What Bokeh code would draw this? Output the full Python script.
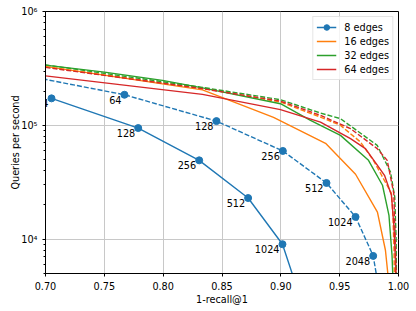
from bokeh.plotting import figure
from bokeh.models import Range1d, FixedTicker, Legend, LegendItem, Label
from bokeh.embed import file_html
from bokeh.resources import INLINE

# ---- data ----
# 8 edges, solid (with markers and search-size labels)
recall_8_a = [0.7051, 0.7788, 0.8306, 0.8722, 0.9014, 0.9150]
qps_8_a = [172600, 94700, 49300, 23000, 9040, 3400]
labels_8_a = ["64", "128", "256", "512", "1024", "2048"]

# 8 edges, dashed (with markers and labels)
recall_8_b = [0.6800, 0.7671, 0.8453, 0.9017, 0.9388, 0.9635, 0.9785, 0.9840]
qps_8_b = [277700, 185700, 109000, 59600, 31200, 15700, 7140, 3300]
labels_8_b = ["32", "64", "128", "256", "512", "1024", "2048", "4096"]

# 16 edges
recall_16_a = [0.700, 0.8334, 0.8938, 0.9380, 0.9635, 0.9821, 0.9889, 0.9915]
qps_16_a = [329300, 204800, 117500, 69500, 37200, 17300, 8000, 4370]
recall_16_b = [0.700, 0.8317, 0.8997, 0.9337, 0.9507, 0.9677, 0.9787, 0.9940, 0.9953, 0.9962, 0.9966]
qps_16_b = [326000, 213300, 160100, 118300, 100000, 71400, 49300, 25300, 15900, 8000, 3950]

# 32 edges
recall_32_a = [0.700, 0.7501, 0.7994, 0.8334, 0.8997, 0.9252, 0.9507, 0.9745, 0.9864, 0.9919, 0.9945, 0.9953]
qps_32_a = [338100, 293500, 248100, 213300, 155000, 110600, 81700, 49300, 29800, 16200, 7240, 4370]
recall_32_b = [0.700, 0.8317, 0.8997, 0.9337, 0.9507, 0.9819, 0.9932, 0.9968, 0.9980, 0.9983]
qps_32_b = [339500, 216800, 168100, 128200, 114500, 66800, 38900, 23500, 9800, 3950]

# 64 edges
recall_64_a = [0.700, 0.8334, 0.8997, 0.9337, 0.9592, 0.9719, 0.9821, 0.9881, 0.9940, 0.9962, 0.9974, 0.9979]
qps_64_a = [271800, 187100, 137300, 106900, 76400, 62500, 44600, 36400, 24300, 12700, 6540, 3950]
recall_64_b = [0.700, 0.8317, 0.8997, 0.9337, 0.9592, 0.9819, 0.9904, 0.9960, 0.9974, 0.9979]
qps_64_b = [322800, 211200, 163400, 122400, 93600, 62500, 49300, 25300, 9200, 3950]

series_names = ["8 edges", "16 edges", "32 edges", "64 edges"]
colors = ["#1f77b4", "#ff7f0e", "#2ca02c", "#d62728"]

x_ticks = [0.70, 0.75, 0.80, 0.85, 0.90, 0.95, 1.00]
x_tick_labels = ["0.70", "0.75", "0.80", "0.85", "0.90", "0.95", "1.00"]
y_ticks = [1e4, 1e5, 1e6]
y_tick_labels = ["10\u2074", "10\u2075", "10\u2076"]

X_MIN, X_MAX = 0.70, 1.00
Y_MIN, Y_MAX = 5000, 1e6

FONT = "DejaVu Sans"
FS = "9.7px"

p = figure(width=416, height=311, y_axis_type="log",
           x_range=Range1d(X_MIN, X_MAX), y_range=Range1d(Y_MIN, Y_MAX),
           output_backend="svg", toolbar_location=None,
           min_border_left=45, min_border_right=18, min_border_top=11, min_border_bottom=38)
p.background_fill_color = "white"
p.border_fill_color = "white"
p.outline_line_color = "black"
p.outline_line_alpha = 1.0
p.outline_line_width = 1

# axes
p.xaxis.ticker = FixedTicker(ticks=x_ticks)
p.xaxis.major_label_overrides = {t: l for t, l in zip(x_ticks, x_tick_labels)}
minor_y = [m * 10 ** e for e in (3, 4, 5) for m in range(2, 10)]
p.yaxis.ticker = FixedTicker(ticks=y_ticks, minor_ticks=minor_y)
p.yaxis.major_label_overrides = {t: l for t, l in zip(y_ticks, y_tick_labels)}

for ax in (p.xaxis, p.yaxis):
    ax.axis_line_color = "black"
    ax.major_tick_line_color = "black"
    ax.major_tick_out = 3
    ax.major_tick_in = 0
    ax.minor_tick_out = 2
    ax.minor_tick_in = 0
    ax.major_label_text_font = FONT
    ax.major_label_text_font_size = FS
    ax.major_label_text_color = "black"
    ax.axis_label_text_font = FONT
    ax.axis_label_text_font_size = FS
    ax.axis_label_text_font_style = "normal"
    ax.axis_label_text_color = "black"
p.xaxis.minor_tick_line_color = None
p.yaxis.minor_tick_line_color = "black"
p.xaxis.major_label_standoff = 5
p.yaxis.major_label_standoff = 5
p.xaxis.axis_label_standoff = 1
p.yaxis.axis_label_standoff = -3
p.xaxis.axis_label = "1-recall@1"
p.yaxis.axis_label = "Queries per second"

p.grid.grid_line_color = "#c8c8c8"
p.grid.grid_line_width = 1
p.ygrid.minor_grid_line_color = None

LW = 1.4
DASH = "5 2"
MS = 7

# 8 edges
r8a = p.line(recall_8_a, qps_8_a, line_color=colors[0], line_width=LW)
s8a = p.scatter(recall_8_a, qps_8_a, size=MS, color=colors[0])
r8b = p.line(recall_8_b, qps_8_b, line_color=colors[0], line_width=LW, line_dash=DASH)
s8b = p.scatter(recall_8_b, qps_8_b, size=MS, color=colors[0])

# others
r16a = p.line(recall_16_a, qps_16_a, line_color=colors[1], line_width=LW)
r16b = p.line(recall_16_b, qps_16_b, line_color=colors[1], line_width=LW, line_dash=DASH)
r32a = p.line(recall_32_a, qps_32_a, line_color=colors[2], line_width=LW)
r32b = p.line(recall_32_b, qps_32_b, line_color=colors[2], line_width=LW, line_dash=DASH)
r64a = p.line(recall_64_a, qps_64_a, line_color=colors[3], line_width=LW)
r64b = p.line(recall_64_b, qps_64_b, line_color=colors[3], line_width=LW, line_dash=DASH)

# point labels (only for points inside the visible axes, like matplotlib annotations)
for xs, ys, ls in ((recall_8_a, qps_8_a, labels_8_a), (recall_8_b, qps_8_b, labels_8_b)):
    for xv, yv, tv in zip(xs, ys, ls):
        if X_MIN <= xv <= X_MAX and Y_MIN <= yv <= Y_MAX:
            p.add_layout(Label(x=xv, y=yv, text=tv, text_align="right", text_baseline="middle",
                               x_offset=-3, y_offset=-5, text_font=FONT, text_font_size=FS,
                               text_color="black", level="overlay"))

legend = Legend(items=[
    LegendItem(label=series_names[0], renderers=[r8a, s8a]),
    LegendItem(label=series_names[1], renderers=[r16a]),
    LegendItem(label=series_names[2], renderers=[r32a]),
    LegendItem(label=series_names[3], renderers=[r64a]),
], location="top_right")
legend.margin = 5
legend.padding = 3
legend.spacing = 0
legend.glyph_width = 20
legend.glyph_height = 14
legend.label_height = 14
legend.label_standoff = 8
legend.label_text_font = FONT
legend.label_text_font_size = FS
legend.label_text_color = "black"
legend.border_line_color = "#cccccc"
legend.border_line_width = 1
legend.background_fill_alpha = 0.8
p.add_layout(legend)

open("out.html", "w").write(file_html(p, INLINE))
